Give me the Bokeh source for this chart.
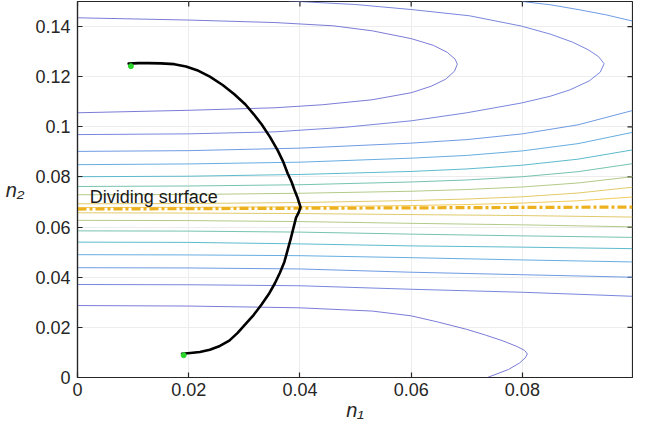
import math
from bokeh.plotting import figure
from bokeh.models import Range1d, FixedTicker
from bokeh.embed import file_html
from bokeh.resources import INLINE
from bokeh.core.properties import value

# ---------------- data ----------------
X_MIN, X_MAX = 0.0, 0.0998
Y_MIN, Y_MAX = 0.0, 0.15
x_ticks = [0.0, 0.02, 0.04, 0.06, 0.08]
x_tick_labels = ["0", "0.02", "0.04", "0.06", "0.08"]
y_ticks = [0.0, 0.02, 0.04, 0.06, 0.08, 0.1, 0.12, 0.14]
y_tick_labels = ["0", "0.02", "0.04", "0.06", "0.08", "0.1", "0.12", "0.14"]
x_title = "n\u2081"
y_title = "n\u2082"

# open contour lines above the dividing surface, read at these n1 values
x_up = [0.0, 0.02, 0.04, 0.06, 0.07, 0.08, 0.09, 0.0998]
up_k0 = [0.0678, 0.0679, 0.0681, 0.0686, 0.0690, 0.0696, 0.0705, 0.0720]
up_k1 = [0.0693, 0.0694, 0.0698, 0.0706, 0.0712, 0.0721, 0.0736, 0.0759]
up_k2 = [0.0729, 0.0730, 0.0735, 0.0743, 0.0750, 0.0760, 0.0776, 0.0801]
up_k3 = [0.0762, 0.0764, 0.0769, 0.0780, 0.0788, 0.0801, 0.0821, 0.0853]
up_k4 = [0.0801, 0.0803, 0.0810, 0.0822, 0.0832, 0.0847, 0.0871, 0.0908]
up_k5 = [0.0849, 0.0852, 0.0859, 0.0875, 0.0886, 0.0904, 0.0933, 0.0978]
up_k6 = [0.0902, 0.0905, 0.0915, 0.0935, 0.0949, 0.0972, 0.1008, 0.1065]

# open contour lines below the dividing surface, read at these n1 values
x_lo = [0.0, 0.02, 0.04, 0.06, 0.08, 0.09, 0.0998]
lo_k1 = [0.0657, 0.0656, 0.0654, 0.0650, 0.0646, 0.0643, 0.0640]
lo_k2 = [0.0627, 0.0626, 0.0622, 0.0615, 0.0609, 0.0605, 0.0601]
lo_k3 = [0.0585, 0.0584, 0.0580, 0.0572, 0.0565, 0.0562, 0.0559]
lo_k4 = [0.0540, 0.0539, 0.0533, 0.0525, 0.0520, 0.0517, 0.0514]
lo_k5 = [0.0490, 0.0489, 0.0486, 0.0478, 0.0469, 0.0465, 0.0461]
lo_k6 = [0.0438, 0.0437, 0.0433, 0.0420, 0.0410, 0.0405, 0.0400]
lo_k7 = [0.0371, 0.0370, 0.0366, 0.0352, 0.0340, 0.0332, 0.0324]

# upper-right corner piece of level k6
up_k6_top_x = [0.0800, 0.0850, 0.0900, 0.0950, 0.0998]
up_k6_top_y = [0.1500, 0.1487, 0.1468, 0.1447, 0.1422]

# outer upper well contour (level k7)
up_k7_x = [0.0380, 0.0500, 0.0600, 0.0705, 0.0798, 0.0850, 0.0890, 0.0918,
           0.0937, 0.0947, 0.0940, 0.0920, 0.0885, 0.0850, 0.0798, 0.0700,
           0.0600, 0.0480, 0.0355, 0.0200, 0.0]
up_k7_y = [0.1502, 0.1488, 0.1468, 0.1443, 0.1402, 0.1370, 0.1338, 0.1308,
           0.1280, 0.1252, 0.1218, 0.1183, 0.1147, 0.1122, 0.1095, 0.1056,
           0.1024, 0.0998, 0.0980, 0.0972, 0.0969]

# inner upper well contour (level k8)
up_k8_x = [0.0, 0.0200, 0.0355, 0.0460, 0.0530, 0.0600, 0.0640, 0.0665,
           0.0679, 0.0683, 0.0678, 0.0662, 0.0636, 0.0600, 0.0530, 0.0440,
           0.0355, 0.0200, 0.0]
up_k8_y = [0.1435, 0.1426, 0.1416, 0.1403, 0.1383, 0.1352, 0.1325, 0.1297,
           0.1270, 0.1250, 0.1222, 0.1190, 0.1162, 0.1136, 0.1108, 0.1088,
           0.1076, 0.1066, 0.1056]

# lower well contour (level k8)
lo_k8_x = [0.0, 0.0200, 0.0400, 0.0530, 0.0600, 0.0647, 0.0700, 0.0734,
           0.0765, 0.0790, 0.0804, 0.0809, 0.0805, 0.0795, 0.0775, 0.0737]
lo_k8_y = [0.0287, 0.0285, 0.0278, 0.0265, 0.0246, 0.0222, 0.0192, 0.0169,
           0.0146, 0.0124, 0.0108, 0.0094, 0.0078, 0.0058, 0.0032, 0.0]

# reaction path between the two minima
path_x = [0.0092, 0.0110, 0.0127, 0.0150, 0.0174, 0.0195, 0.0215, 0.0238,
          0.0261, 0.0282, 0.0302, 0.0317, 0.0331, 0.0346, 0.0360, 0.0370,
          0.0378, 0.0385, 0.0390, 0.0396, 0.0401, 0.0398, 0.0393, 0.0383,
          0.0372, 0.0364, 0.0355, 0.0344, 0.0331, 0.0317, 0.0302, 0.0288,
          0.0273, 0.0256, 0.0238, 0.0220, 0.0203, 0.0188]
path_y = [0.1252, 0.1254, 0.1254, 0.1253, 0.1250, 0.1241, 0.1226, 0.1200,
          0.1167, 0.1130, 0.1089, 0.1050, 0.1010, 0.0960, 0.0906, 0.0860,
          0.0814, 0.0780, 0.0749, 0.0715, 0.0680, 0.0660, 0.0638, 0.0550,
          0.0461, 0.0418, 0.0376, 0.0333, 0.0291, 0.0250, 0.0213, 0.0178,
          0.0147, 0.0126, 0.0111, 0.0102, 0.0098, 0.0095]

# minima
min_x = [0.0096, 0.0191]
min_y = [0.1242, 0.0089]

# dividing surface
ds_x = [0.0, 0.0998]
ds_y = [0.0672, 0.0680]
ds_label = "Dividing surface"
ds_label_x = [0.0022]
ds_label_y = [0.0722]

# ---------------- figure ----------------
FONT = "Liberation Sans"
AX_COL = "#262626"

p = figure(frame_width=555, frame_height=376,
           x_range=Range1d(X_MIN, X_MAX), y_range=Range1d(Y_MIN, Y_MAX),
           output_backend="svg", toolbar_location=None,
           min_border_left=77, min_border_right=1, min_border_top=1,
           min_border_bottom=47)
p.background_fill_color = "white"
p.border_fill_color = "white"
p.outline_line_color = AX_COL
p.outline_line_width = 1.2

for ax in (p.xaxis[0], p.yaxis[0]):
    ax.axis_line_color = AX_COL
    ax.axis_line_width = 1.2
    ax.major_tick_line_color = AX_COL
    ax.major_tick_line_width = 1.2
    ax.major_tick_in = 5
    ax.major_tick_out = 0
    ax.minor_tick_line_color = None
    ax.major_label_text_font = FONT
    ax.major_label_text_font_size = "18px"
    ax.major_label_text_color = AX_COL
    ax.axis_label_text_font = FONT
    ax.axis_label_text_font_style = "italic"
    ax.axis_label_text_font_size = "20px"
    ax.axis_label_text_color = AX_COL

p.xaxis.ticker = FixedTicker(ticks=x_ticks)
p.yaxis.ticker = FixedTicker(ticks=y_ticks)
p.xaxis.major_label_overrides = dict(zip(x_ticks, x_tick_labels))
p.yaxis.major_label_overrides = dict(zip(y_ticks, y_tick_labels))
p.xaxis.major_label_standoff = 5
p.yaxis.major_label_standoff = 7
p.xaxis.axis_label = x_title
p.yaxis.axis_label = y_title
p.xaxis.axis_label_standoff = 0
p.yaxis.axis_label_standoff = 8
p.yaxis.axis_label_orientation = "horizontal"

p.xgrid.ticker = FixedTicker(ticks=x_ticks)
p.ygrid.ticker = FixedTicker(ticks=y_ticks)
p.grid.grid_line_color = "#ededed"
p.grid.grid_line_width = 1

# inward ticks on the top and right edges of the box
p.scatter(x_ticks, [Y_MAX] * len(x_ticks), marker="dash", size=10,
          angle=math.pi / 2, line_color=AX_COL, line_width=1.2)
p.scatter([X_MAX] * len(y_ticks), y_ticks, marker="dash", size=10,
          line_color=AX_COL, line_width=1.2)

# contour colours (parula-like, saddle -> well)
C = {
    "k0": "#f0c64a",
    "k1": "#dcc45a",
    "k2": "#a9c47c",
    "k3": "#66bca6",
    "k4": "#4cb2c6",
    "k5": "#55a4dc",
    "k6": "#5f8ee0",
    "k7": "#6a78d8",
    "k8": "#6c6cd2",
}
LW = 0.9

open_up = [(up_k0, "k0"), (up_k1, "k1"), (up_k2, "k2"), (up_k3, "k3"),
           (up_k4, "k4"), (up_k5, "k5"), (up_k6, "k6")]
open_lo = [(lo_k1, "k1"), (lo_k2, "k2"), (lo_k3, "k3"), (lo_k4, "k4"),
           (lo_k5, "k5"), (lo_k6, "k6"), (lo_k7, "k7")]
for ys, k in open_up:
    p.line(x_up, ys, line_color=C[k], line_width=LW, line_join="round")
for ys, k in open_lo:
    p.line(x_lo, ys, line_color=C[k], line_width=LW, line_join="round")

p.line(up_k6_top_x, up_k6_top_y, line_color=C["k6"], line_width=LW,
       line_join="round")
p.line(up_k7_x, up_k7_y, line_color=C["k7"], line_width=LW, line_join="round")
p.line(up_k8_x, up_k8_y, line_color=C["k8"], line_width=LW, line_join="round")
p.line(lo_k8_x, lo_k8_y, line_color=C["k8"], line_width=LW, line_join="round")

# dividing surface
p.line(ds_x, ds_y, line_color="#edb120", line_width=3.2,
       line_dash="9 3 3 3")

# reaction path
p.line(path_x, path_y, line_color="black", line_width=2.6,
       line_join="round", line_cap="round")
p.scatter(min_x, min_y, size=5, fill_color="#2bd62b", line_color="#2bd62b")

p.text(ds_label_x, ds_label_y, text=[ds_label],
       text_font=value(FONT), text_font_size="18px",
       text_color="#1a1a1a", text_baseline="alphabetic", text_align="left")

open("out.html", "w").write(file_html(p, INLINE))
